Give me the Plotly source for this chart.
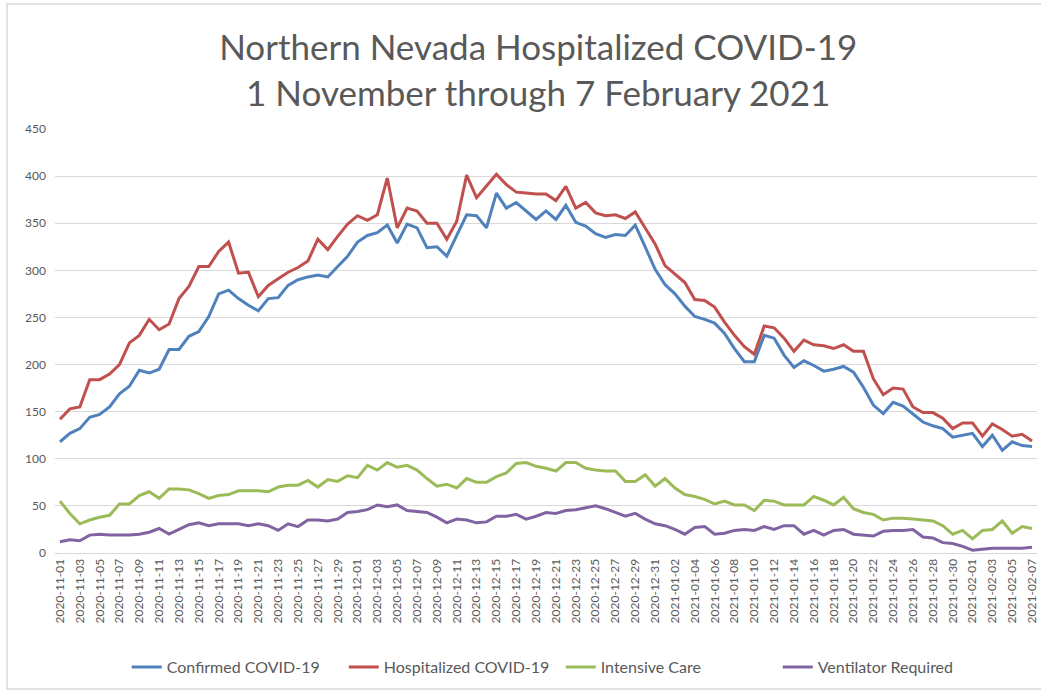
import pandas as pd
import plotly.graph_objects as go

# Daily census, 1 Nov 2020 - 7 Feb 2021
dates = pd.date_range("2020-11-01", "2021-02-07", freq="D").strftime("%Y-%m-%d").tolist()

confirmed = [118, 127, 132, 144, 147, 155, 169, 177, 194, 191, 195, 216, 216, 230, 235, 251, 275, 279, 270, 263,
             257, 270, 271, 284, 290, 293, 295, 293, 304, 315, 330, 337, 340, 348, 329, 349, 345, 324, 325, 315,
             337, 359, 358, 345, 382, 366, 372, 363, 354, 363, 354, 369, 351, 347, 339, 335, 338, 337, 348, 325,
             301, 285, 275, 262, 251, 248, 244, 233, 217, 203, 203, 231, 228, 210, 197, 204, 199, 193, 195, 198,
             192, 176, 157, 148, 160, 156, 148, 139, 135, 132, 123, 125, 127, 113, 125, 109, 118, 114, 113]

hospitalized = [142, 153, 155, 184, 184, 190, 200, 223, 231, 248, 237, 243, 270, 283, 304, 304, 320, 330, 297, 298,
                272, 284, 291, 298, 303, 310, 333, 322, 336, 349, 358, 353, 359, 398, 345, 366, 363, 350, 350, 333,
                352, 401, 377, 389, 402, 391, 383, 382, 381, 381, 374, 389, 366, 372, 361, 358, 359, 355, 362, 345,
                328, 305, 296, 287, 269, 268, 261, 245, 231, 219, 211, 241, 239, 228, 214, 226, 221, 220, 217, 221,
                214, 214, 185, 168, 175, 174, 155, 149, 149, 143, 132, 138, 138, 124, 137, 131, 124, 126, 119]

icu = [55, 42, 31, 35, 38, 40, 52, 52, 61, 65, 58, 68, 68, 67, 63, 58, 61, 62, 66, 66,
       66, 65, 70, 72, 72, 77, 70, 78, 76, 82, 80, 93, 88, 96, 91, 93, 88, 79, 71, 73,
       69, 79, 75, 75, 81, 85, 95, 96, 92, 90, 87, 96, 96, 90, 88, 87, 87, 76, 76, 83,
       71, 79, 69, 62, 60, 57, 52, 55, 51, 51, 45, 56, 55, 51, 51, 51, 60, 56, 51, 59,
       47, 43, 41, 35, 37, 37, 36, 35, 34, 29, 20, 24, 15, 24, 25, 34, 21, 28, 26]

ventilator = [12, 14, 13, 19, 20, 19, 19, 19, 20, 22, 26, 20, 25, 30, 32, 29, 31, 31, 31, 29,
              31, 29, 24, 31, 28, 35, 35, 34, 36, 43, 44, 46, 51, 49, 51, 45, 44, 43, 38, 32,
              36, 35, 32, 33, 39, 39, 41, 36, 39, 43, 42, 45, 46, 48, 50, 47, 43, 39, 42, 36,
              31, 29, 25, 20, 27, 28, 20, 21, 24, 25, 24, 28, 25, 29, 29, 20, 24, 19, 24, 25,
              20, 19, 18, 23, 24, 24, 25, 17, 16, 11, 10, 7, 3, 4, 5, 5, 5, 5, 6]

series = [
    ("Confirmed COVID-19", confirmed, "#4F81BD"),
    ("Hospitalized COVID-19", hospitalized, "#C0504D"),
    ("Intensive Care", icu, "#9BBB59"),
    ("Ventilator Required", ventilator, "#8064A2"),
]

fig = go.Figure()
for name, vals, color in series:
    fig.add_trace(go.Scatter(x=dates, y=vals, name=name, mode="lines",
                             line=dict(color=color, width=3)))

fig.update_layout(
    width=1041, height=692,
    paper_bgcolor="white", plot_bgcolor="white",
    font=dict(family="Lato, Open Sans, sans-serif", color="#595959"),
    margin=dict(l=55, r=4, t=129, b=139),
    title=dict(text="Northern Nevada Hospitalized COVID-19<br>1 November through 7 February 2021",
               x=0.517, xanchor="center", yref="container", y=1 - 60 / 692, yanchor="middle",
               font=dict(size=35, color="#595959")),
    xaxis=dict(type="category", tickvals=dates[::2], tickangle=-90, automargin=False,
               tickfont=dict(size=12, color="#595959"), showgrid=False,
               showline=True, linecolor="#D9D9D9", ticks="", range=[-0.5, 98.5]),
    yaxis=dict(range=[0, 450], dtick=50, gridcolor="#D9D9D9", gridwidth=1, automargin=False,
               zeroline=True, zerolinecolor="#D9D9D9", showline=False,
               tickfont=dict(size=12, color="#595959"), ticklabelstandoff=8),
    legend=dict(orientation="h", x=0.515, xanchor="center", yref="container",
                y=1 - 667 / 692, yanchor="middle", entrywidth=172,
                font=dict(size=16, color="#595959"), itemwidth=30, tracegroupgap=0),
    shapes=[dict(type="rect", xref="paper", yref="paper",
                 x0=-48 / 982, x1=1.02, y0=-136 / 424, y1=1 + 125 / 424,
                 line=dict(color="#D9D9D9", width=1.5))],
)

# drop the browser's default body margin so the figure sits at the page corner
fig.write_html("out.html", config={"displayModeBar": False},
               post_script="document.body.style.margin = '0';")
